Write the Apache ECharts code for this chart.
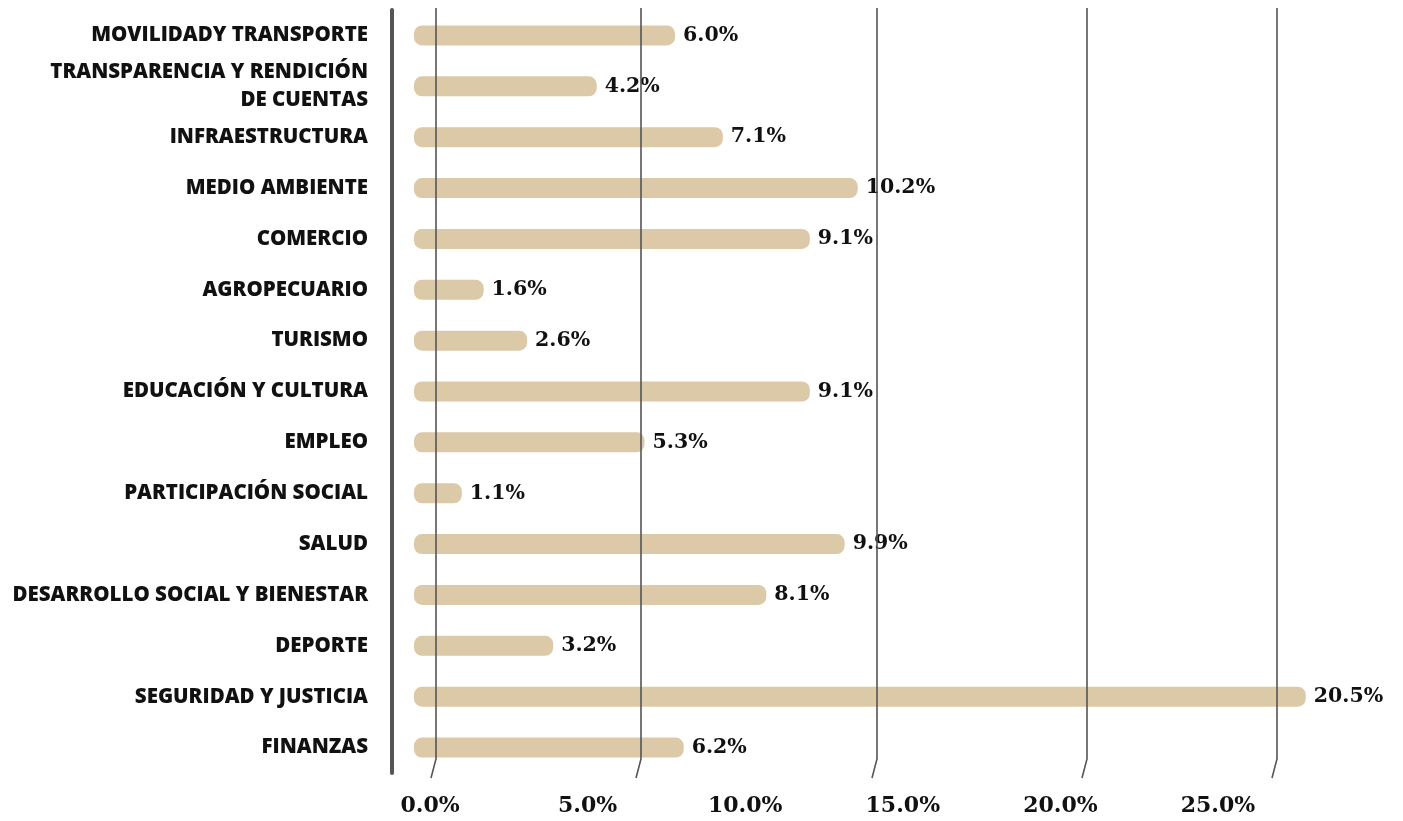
<!DOCTYPE html>
<html>
<head>
<meta charset="utf-8">
<script src="https://cdn.jsdelivr.net/npm/echarts@6/dist/echarts.min.js"></script>
<style>
html,body{margin:0;padding:0;background:#fff;}
#main{width:1403px;height:821px;}
</style>
</head>
<body>
<div id="main"></div>
<script>
var categories = ['MOVILIDADY TRANSPORTE', 'TRANSPARENCIA Y RENDICIÓN\nDE CUENTAS', 'INFRAESTRUCTURA',
	'MEDIO AMBIENTE', 'COMERCIO', 'AGROPECUARIO', 'TURISMO', 'EDUCACIÓN Y CULTURA', 'EMPLEO',
	'PARTICIPACIÓN SOCIAL', 'SALUD', 'DESARROLLO SOCIAL Y BIENESTAR', 'DEPORTE', 'SEGURIDAD Y JUSTICIA', 'FINANZAS'];
var values = [6.0, 4.2, 7.1, 10.2, 9.1, 1.6, 2.6, 9.1, 5.3, 1.1, 9.9, 8.1, 3.2, 20.5, 6.2];
var tickValues = [0, 5, 10, 15, 20, 25];
// decorative vertical rules (pixel x of each rule)
var ruleX = [436, 641, 877, 1087, 1277];

var myChart = echarts.init(document.getElementById('main'));

var rules = ruleX.map(function(x){
	return {
		type: 'polyline',
		z: 100,
		shape: { points: [[x, 8], [x, 759], [x - 5, 778]] },
		style: { stroke: '#555', lineWidth: 1.6, fill: null }
	};
});

var option = {
	animation: false,
	grid: [
		{ left: 414, top: 10, width: 957, height: 763 },
		{ left: 430, top: 10, width: 788, height: 770 }
	],
	xAxis: [
		{ gridIndex: 0, type: 'value', min: 0, max: 22, show: false },
		{
			gridIndex: 1, type: 'value', min: tickValues[0], max: tickValues[tickValues.length - 1], interval: 5,
			axisLine: { show: false }, axisTick: { show: false }, splitLine: { show: false },
			axisLabel: {
				margin: 15,
				formatter: function(v){ return v.toFixed(1) + '%'; },
				fontFamily: 'DejaVu Serif', fontWeight: 'bold', fontSize: 22, color: '#111'
			}
		}
	],
	yAxis: [
		{
			gridIndex: 0, type: 'category', data: categories, inverse: true,
			offset: 22,
			axisLine: { show: true, onZero: false, lineStyle: { color: '#555', width: 4 } },
			axisTick: { show: false },
			axisLabel: {
				margin: 24,
				fontFamily: 'Open Sans', fontWeight: 800, fontSize: 20.5, color: '#111',
				lineHeight: 28, align: 'right'
			}
		},
		{ gridIndex: 1, type: 'value', show: false }
	],
	graphic: rules,
	series: [{
		type: 'bar',
		xAxisIndex: 0,
		yAxisIndex: 0,
		data: values,
		barWidth: 20,
		itemStyle: { color: '#dcc9a7', borderRadius: 8 },
		label: {
			show: true,
			position: 'right',
			distance: 8,
			formatter: function(p){ return p.value.toFixed(1) + '%'; },
			fontFamily: 'DejaVu Serif', fontWeight: 'bold', fontSize: 20.5, color: '#111'
		}
	}]
};
myChart.setOption(option);
</script>
</body>
</html>
